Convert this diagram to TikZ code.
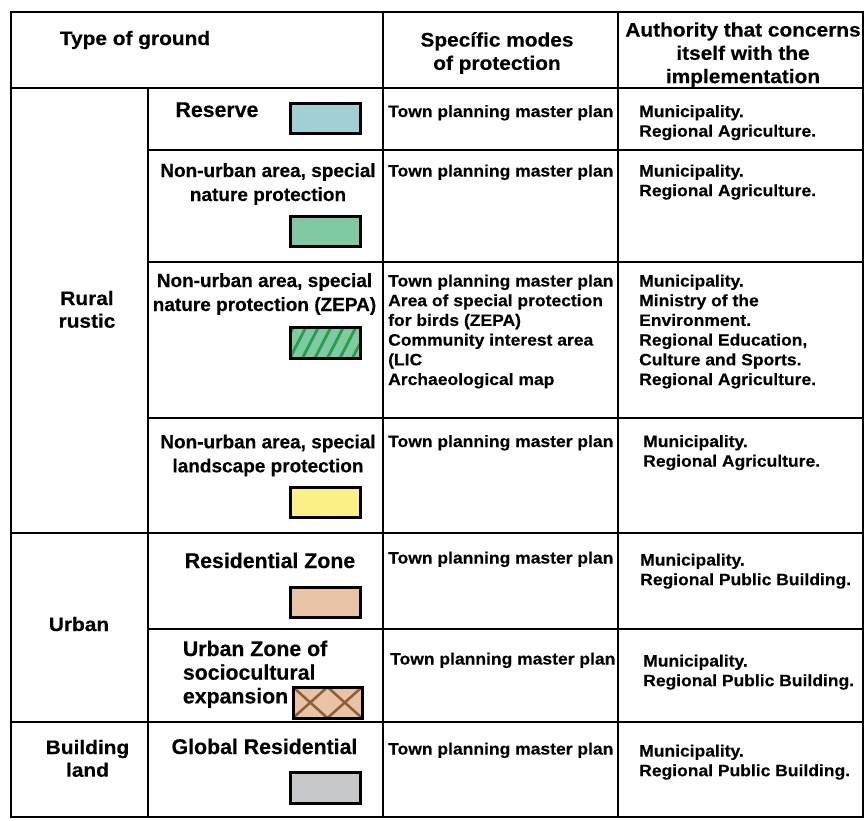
\documentclass[tikz,border=0pt]{standalone}
\usepackage{fontspec}
\setmainfont{Liberation Sans}
\newfontfamily\hdrF[FakeStretch=1.07,FakeBold=0.3]{Liberation Sans}
\newfontfamily\cellF[FakeStretch=1.06,FakeBold=0.3]{Liberation Sans}
\newfontfamily\oneF[FakeStretch=1.07,FakeBold=0.3]{Liberation Sans}
\newfontfamily\lblF[FakeBold=0.3]{Liberation Sans}
\newcommand{\linesL}[1]{\begin{tabular}[t]{@{}l@{}}#1\end{tabular}}
\newcommand{\linesC}[1]{\begin{tabular}[t]{@{}c@{}}#1\end{tabular}}
\definecolor{blueSw}{HTML}{A1CFD6}
\definecolor{greenSw}{HTML}{80C9A2}
\definecolor{hatchGreen}{HTML}{22A148}
\definecolor{yellowSw}{HTML}{F9F086}
\definecolor{peachSw}{HTML}{E8C3A6}
\definecolor{crossBrown}{HTML}{8A5F3A}
\definecolor{greySw}{HTML}{C7C8CA}
\tikzset{
  gridline/.style={draw=black, line width=1.8pt},
  hdr/.style={font=\hdrF\bfseries\fontsize{19.5}{23.3}\selectfont, anchor=base, inner sep=0pt},
  typ/.style={font=\oneF\bfseries\fontsize{19.5}{22.7}\selectfont, anchor=base, inner sep=0pt},
  lbl/.style={font=\lblF\bfseries\fontsize{19}{24}\selectfont, anchor=base, inner sep=0pt},
  lblbig/.style={font=\lblF\bfseries\fontsize{21.3}{23.7}\selectfont, anchor=base, inner sep=0pt},
  lblL/.style={lblbig, anchor=base west},
  cell/.style={font=\cellF\bfseries\fontsize{16.5}{19.7}\selectfont, anchor=base west, inner sep=0pt},
  swatch/.style={draw=black, line width=3pt},
}
\begin{document}
\begin{tikzpicture}[x=1pt, y=-1pt]
\useasboundingbox (0,0) rectangle (866,820);
% table grid
\draw[gridline] (11,12) rectangle (863,817);
\draw[gridline] (11,88) -- (863,88);
\draw[gridline] (148,88) -- (148,817);
\draw[gridline] (383,12) -- (383,817);
\draw[gridline] (618,12) -- (618,817);
\draw[gridline] (148,150) -- (863,150);
\draw[gridline] (148,262) -- (863,262);
\draw[gridline] (148,418) -- (863,418);
\draw[gridline] (11,533) -- (863,533);
\draw[gridline] (148,629) -- (863,629);
\draw[gridline] (11,722) -- (863,722);
% header
\node[hdr] (h1) at (135,45) {Type of ground};
\node[hdr] (h2) at (497,46.5) {\linesC{Specífic modes\\of protection}};
\node[hdr] (h3) at (743,36.5) {\linesC{Authority that concerns\\itself with the\\implementation}};
% column 1
\node[typ] (t1) at (87,305) {\linesC{Rural\\rustic}};
\node[typ] (t2) at (79,631) {Urban};
\node[typ] (t3) at (87.5,754) {\linesC{Building\\land}};
% column 2 labels
\node[lblbig] (l1) at (217,117) {Reserve};
\node[lbl] (l2) at (268,177) {\linesC{Non-urban area, special\\nature protection}};
\node[lbl] (l3) at (264.5,287) {\linesC{Non-urban area, special\\nature protection (ZEPA)}};
\node[lbl] (l4) at (268,448.3) {\linesC{Non-urban area, special\\landscape protection}};
\node[lblbig] (l5) at (270,568) {Residential Zone};
\node[lblL] (l6) at (182.7,656) {\linesL{Urban Zone of\\sociocultural\\expansion}};
\node[lblbig] (l7) at (264.5,754) {Global Residential};
% swatches
\draw[swatch, fill=blueSw] (290,103) rectangle (360,133);
\draw[swatch, fill=greenSw] (290,216) rectangle (360,246);
\fill[greenSw] (290,327) rectangle (360,358);
\begin{scope}
  \clip (290,327) rectangle (360,358);
  \foreach \k in {-2,...,6} {
    \draw[hatchGreen, line width=2.8pt] ({290+\k*12.5},358) -- ({290+\k*12.5+16},327);
  }
\end{scope}
\draw[swatch] (290,327) rectangle (360,358);
\draw[swatch, fill=yellowSw] (290,487) rectangle (360,517);
\draw[swatch, fill=peachSw] (290,587) rectangle (360,617);
\fill[peachSw] (293,687) rectangle (362,718);
\begin{scope}
  \clip (293,687) rectangle (362,718);
  \draw[crossBrown, line width=2.5pt] (293,687) -- (327.5,718) (327.5,687) -- (293,718)
     (327.5,687) -- (362,718) (362,687) -- (327.5,718);
\end{scope}
\draw[swatch] (293,687) rectangle (362,718);
\draw[swatch, fill=greySw] (290,772) rectangle (360,803);
% column 3
\node[cell] (m1) at (388,117) {Town planning master plan};
\node[cell] (m2) at (388,176.5) {Town planning master plan};
\node[cell] (m3) at (388,286.5) {\linesL{Town planning master plan\\Area of special protection\\for birds (ZEPA)\\Community interest area\\(LIC\\Archaeological map}};
\node[cell] (m4) at (388,447) {Town planning master plan};
\node[cell] (m5) at (388,563.5) {Town planning master plan};
\node[cell] (m6) at (390,664.5) {Town planning master plan};
\node[cell] (m7) at (388,754.5) {Town planning master plan};
% column 4
\node[cell] (a1) at (639,117) {\linesL{Municipality.\\Regional Agriculture.}};
\node[cell] (a2) at (639,176.5) {\linesL{Municipality.\\Regional Agriculture.}};
\node[cell] (a3) at (639,286.5) {\linesL{Municipality.\\Ministry of the\\Environment.\\Regional Education,\\Culture and Sports.\\Regional Agriculture.}};
\node[cell] (a4) at (643,447) {\linesL{Municipality.\\Regional Agriculture.}};
\node[cell] (a5) at (640,565.5) {\linesL{Municipality.\\Regional Public Building.}};
\node[cell] (a6) at (643,666.5) {\linesL{Municipality.\\Regional Public Building.}};
\node[cell] (a7) at (639,756.5) {\linesL{Municipality.\\Regional Public Building.}};
\end{tikzpicture}
\end{document}
